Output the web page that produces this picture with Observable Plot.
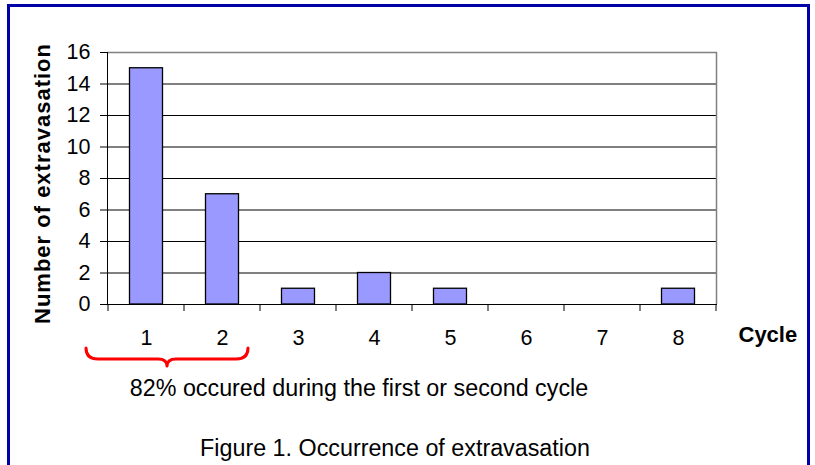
<!DOCTYPE html>
<html>
<head>
<meta charset="utf-8">
<script src="https://cdn.jsdelivr.net/npm/d3@7"></script>
<script src="https://cdn.jsdelivr.net/npm/@observablehq/plot@0.6"></script>
<style>
  html, body { margin: 0; padding: 0; background: #fff; }
  #wrap { position: relative; width: 815px; height: 465px; overflow: hidden; font-family: "Liberation Sans", Arial, sans-serif; }
  #border { position: absolute; left: 7px; top: 4px; width: 797px; height: 520px; border: 3px solid #0000a8; }
  #plot { position: absolute; left: 0; top: 0; }
  .cap { position: absolute; font-size: 23.3px; color: #000; white-space: nowrap; transform: translate(-50%, -50%); }
</style>
</head>
<body>
<div id="wrap">
  <div id="border"></div>
  <div id="plot"></div>
  <div class="cap" id="note"></div>
  <div class="cap" id="title"></div>
</div>
<script>
const cycles = ["1", "2", "3", "4", "5", "6", "7", "8"];
const counts = [15, 7, 1, 2, 1, 0, 0, 1];
const yTicks = [0, 2, 4, 6, 8, 10, 12, 14, 16];
const xLabel = "Cycle";
const yLabel = "Number of extravasation";
const noteText = "82% occured during the first or second cycle";
const titleText = "Figure 1. Occurrence of extravasation";
const braceCycles = ["1", "2"];

const data = cycles.map((c, i) => ({cycle: c, count: counts[i]}));
const svgNS = "http://www.w3.org/2000/svg";

function boundaryTicks(index, scales, values, dim) {
  const g = document.createElementNS(svgNS, "g");
  const bw = scales.x.bandwidth();
  const xs = cycles.map(c => scales.x(c)).concat([scales.x(cycles[cycles.length - 1]) + bw]);
  const y0 = dim.height - dim.marginBottom;
  for (const x of xs) {
    const l = document.createElementNS(svgNS, "line");
    l.setAttribute("x1", x); l.setAttribute("x2", x);
    l.setAttribute("y1", y0); l.setAttribute("y2", y0 + 7);
    l.setAttribute("stroke", "#000");
    g.appendChild(l);
  }
  return g;
}

function plotFrame(index, scales, values, dim) {
  const g = document.createElementNS(svgNS, "g");
  const x1 = dim.width - dim.marginRight, yT = dim.marginTop, yB = dim.height - dim.marginBottom;
  const r = document.createElementNS(svgNS, "path");
  r.setAttribute("d", `M${dim.marginLeft},${yT + 0.5}H${x1 - 0.5}V${yB}`);
  r.setAttribute("fill", "none");
  r.setAttribute("stroke", "#808080");
  r.setAttribute("stroke-width", 1.5);
  g.appendChild(r);
  const a = document.createElementNS(svgNS, "path");
  a.setAttribute("d", `M${dim.marginLeft + 0.5},${yT}V${yB + 0.5}H${x1}`);
  a.setAttribute("fill", "none");
  a.setAttribute("stroke", "#000");
  g.appendChild(a);
  return g;
}

function brace(index, scales, values, dim) {
  const bw = scales.x.bandwidth();
  const L = scales.x(braceCycles[0]) - 22;
  const R = scales.x(braceCycles[1]) + bw - 12;
  const M = (L + R) / 2;
  const y0 = dim.height - dim.marginBottom;
  const t = y0 + 44, h = y0 + 55, tip = y0 + 62;
  const p = document.createElementNS(svgNS, "path");
  p.setAttribute("d", `M${L},${t}Q${L},${h} ${L + 12},${h}H${M - 9}Q${M},${h} ${M},${tip}Q${M},${h} ${M + 9},${h}H${R - 12}Q${R},${h} ${R},${t}`);
  p.setAttribute("fill", "none");
  p.setAttribute("stroke", "#ff0000");
  p.setAttribute("stroke-width", 3);
  p.setAttribute("stroke-linecap", "round");
  p.setAttribute("stroke-linejoin", "round");
  return p;
}

const chart = Plot.plot({
  width: 815,
  height: 380,
  marginLeft: 107,
  marginRight: 98,
  marginTop: 52,
  marginBottom: 76,
  style: {fontFamily: "'Liberation Sans', Arial, sans-serif", background: "transparent", overflow: "visible"},
  x: {domain: cycles, padding: 0, axis: null},
  y: {domain: [0, 16], axis: null},
  marks: [
    Plot.gridY(yTicks, {stroke: "#000", strokeOpacity: 1, strokeWidth: 1}),
    Plot.barY(data, {x: "cycle", y: "count", fill: "#9999ff", stroke: "#000", strokeWidth: 1.3, insetLeft: 21.5, insetRight: 21.5}),
    plotFrame,
    Plot.axisY({ticks: yTicks, tickSize: 7, tickPadding: 10, fontSize: 21.5, label: null, tickFormat: d => String(d)}),
    boundaryTicks,
    Plot.text(cycles, {x: d => d, frameAnchor: "bottom", dy: 34, fontSize: 21.5, fill: "#000", lineAnchor: "middle"}),
    Plot.text([xLabel], {frameAnchor: "bottom-right", textAnchor: "start", lineAnchor: "middle", dx: 21, dy: 30, fontSize: 22, fontWeight: "bold", fill: "#000"}),
    Plot.text([yLabel], {frameAnchor: "left", rotate: -90, textAnchor: "middle", dx: -65, dy: 5, fontSize: 22, fontWeight: "bold", fill: "#000", lineAnchor: "middle"}),
    brace
  ]
});
document.getElementById("plot").appendChild(chart);
chart.querySelectorAll("text").forEach(t => { if (t.textContent === yLabel) t.setAttribute("letter-spacing", "1"); });

const note = document.getElementById("note");
note.textContent = noteText;
note.style.left = "359px"; note.style.top = "388px";
const title = document.getElementById("title");
title.textContent = titleText;
title.style.left = "395px"; title.style.top = "448px";
</script>
</body>
</html>
